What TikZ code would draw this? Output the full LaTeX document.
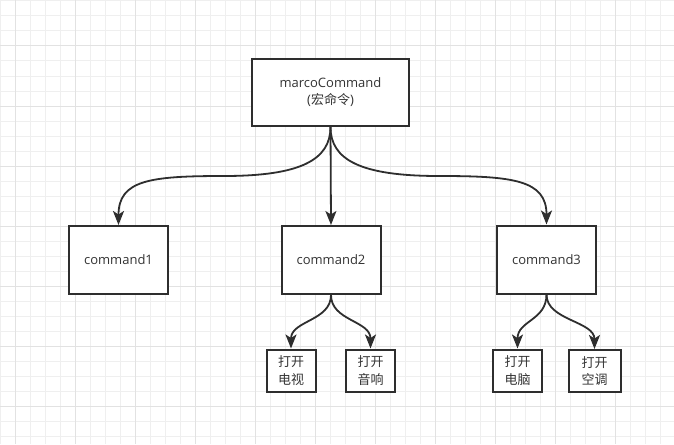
\documentclass[tikz,border=0pt]{standalone}
\usepackage{fontspec}
\setmainfont{Open Sans}
\newfontfamily\cjk{Noto Sans CJK SC}
\usetikzlibrary{arrows.meta}
\definecolor{gridminor}{HTML}{EFEFEF}
\definecolor{gridmajor}{HTML}{E2E2E2}
\definecolor{ink}{HTML}{2E2E2E}
\definecolor{txt}{HTML}{333333}
\tikzset{
  box/.style={draw=ink, line width=2pt, fill=white, inner sep=0pt, text=txt, align=center,
    font=\fontsize{13}{17}\selectfont},
  bigbox/.style={box, minimum width=157pt, minimum height=67pt},
  cmdbox/.style={box, minimum width=99pt, minimum height=68pt},
  smallbox/.style={box, minimum width=49pt, minimum height=42pt, font=\cjk\fontsize{13}{17.5}\selectfont},
  conn/.style={draw=ink, line width=1.8pt, -{Stealth[length=14pt,width=11pt,inset=3.5pt]}}
}
\begin{document}
\begin{tikzpicture}[x=1pt,y=-1pt]
\useasboundingbox (0,0) rectangle (674,444);
\fill[white] (0,0) rectangle (674,444);
% grid
\foreach \x in {0,15,...,674} \draw[gridminor, line width=1pt] (\x,0) -- (\x,444);
\foreach \y in {1,16,...,444} \draw[gridminor, line width=1pt] (0,\y) -- (674,\y);
\foreach \x in {15,75,...,674} \draw[gridmajor, line width=1pt] (\x,0) -- (\x,444);
\foreach \y in {46,106,...,444} \draw[gridmajor, line width=1pt] (0,\y) -- (674,\y);
% nodes
\node[bigbox] (macro) at (330.5,92.5) {marcoCommand\\({\cjk 宏命令})};
\node[cmdbox] (c1) at (118.5,260) {command1};
\node[cmdbox] (c2) at (331,260) {command2};
\node[cmdbox] (c3) at (546.5,259.5) {command3};
\node[smallbox] (s1) at (291,370.5) {打开\\电视};
\node[smallbox] (s2) at (370.5,370.5) {打开\\音响};
\node[smallbox] (s3) at (517.5,370.5) {打开\\电脑};
\node[smallbox, minimum width=52pt] (s4) at (594.5,371) {打开\\空调};
% connectors
\coordinate (ml) at (224,176);
\coordinate (mr) at (439,176);
\draw[conn] (macro.south) .. controls ++(0,33) and (300,176) .. (ml)
  .. controls (150,176) and (118.5,180) .. (c1.north);
\draw[conn] (macro.south) -- (c2.north);
\draw[conn] (macro.south) .. controls ++(0,33) and (361,176) .. (mr)
  .. controls (513,176) and (546.5,180) .. (c3.north);
\draw[conn] (c2.south) .. controls ++(0,26) and ([yshift=28pt]s1.north) .. (s1.north);
\draw[conn] (c2.south) .. controls ++(0,26) and ([yshift=28pt]s2.north) .. (s2.north);
\draw[conn] (c3.south) .. controls ++(0,26) and ([yshift=28pt]s3.north) .. (s3.north);
\draw[conn] (c3.south) .. controls ++(0,26) and ([yshift=28pt]s4.north) .. (s4.north);
\end{tikzpicture}
\end{document}
